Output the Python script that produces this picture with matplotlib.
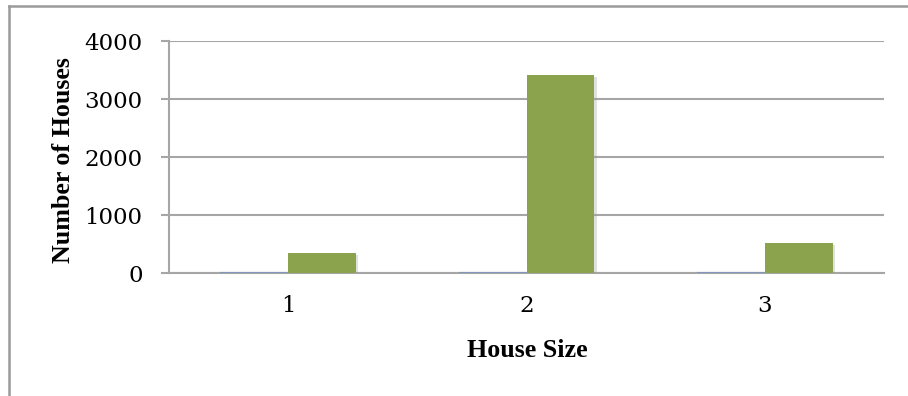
import matplotlib
matplotlib.use("Agg")
import matplotlib.pyplot as plt
import matplotlib.patheffects as pe
from matplotlib.lines import Line2D
import numpy as np

categories = ["1", "2", "3"]
series_a = [10, 10, 10]          # blue series (near zero)
series_b = [345, 3410, 520]      # green series
yticks = [0, 1000, 2000, 3000, 4000]

plt.rcParams['font.family'] = ['DejaVu Serif']

fig = plt.figure(figsize=(9.08, 3.96), dpi=100)
ax = fig.add_axes([169/908, 1-273/396, 715/908, 232/396])

x = np.arange(len(categories))
w = 0.285
grid_c = "#A6A6A6"

shadow = [pe.SimplePatchShadow(offset=(1.5, -1.5), shadow_rgbFace="#999999", alpha=0.3), pe.Normal()]
ax.bar(x - w/2, series_a, width=w, color="#4F81BD", edgecolor="#7F97BA", linewidth=0.8, zorder=3)
ax.bar(x + w/2, series_b, width=w, color="#8BA34D", linewidth=0, zorder=3, path_effects=shadow)

ax.set_xlim(-0.5, 2.5)
ax.set_ylim(0, 4000)
ax.set_yticks(yticks)
ax.set_yticklabels([str(v) for v in yticks])
ax.set_xticks(x)
ax.set_xticklabels(categories)

ax.yaxis.grid(True, color=grid_c, linewidth=1.5, zorder=0)
ax.set_axisbelow(True)
for s in ["top", "right"]:
    ax.spines[s].set_visible(False)
for s in ["left", "bottom"]:
    ax.spines[s].set_color(grid_c)
    ax.spines[s].set_linewidth(1.5)

ax.tick_params(axis="y", length=6, width=1.5, color=grid_c, pad=13, labelsize=16.5)
ax.tick_params(axis="x", length=0, pad=16, labelsize=16.5)

lab_font = dict(family=['Liberation Serif', 'DejaVu Serif'], fontweight="bold", fontsize=18.7)
fig.text(64/908, 1-160/396, "Number of Houses", rotation=90, ha="center", va="center", **lab_font)
fig.text(527/908, 1-357/396, "House Size", ha="center", va="baseline", **lab_font)

# outer chart border (top and left visible)
fig.add_artist(Line2D([9/908, 9/908], [0, 1-6/396], transform=fig.transFigure, color="#9A9A9A", linewidth=1.8))
fig.add_artist(Line2D([9/908, 1], [1-6/396, 1-6/396], transform=fig.transFigure, color="#9A9A9A", linewidth=1.8))

fig.savefig("out.png", dpi=100)
